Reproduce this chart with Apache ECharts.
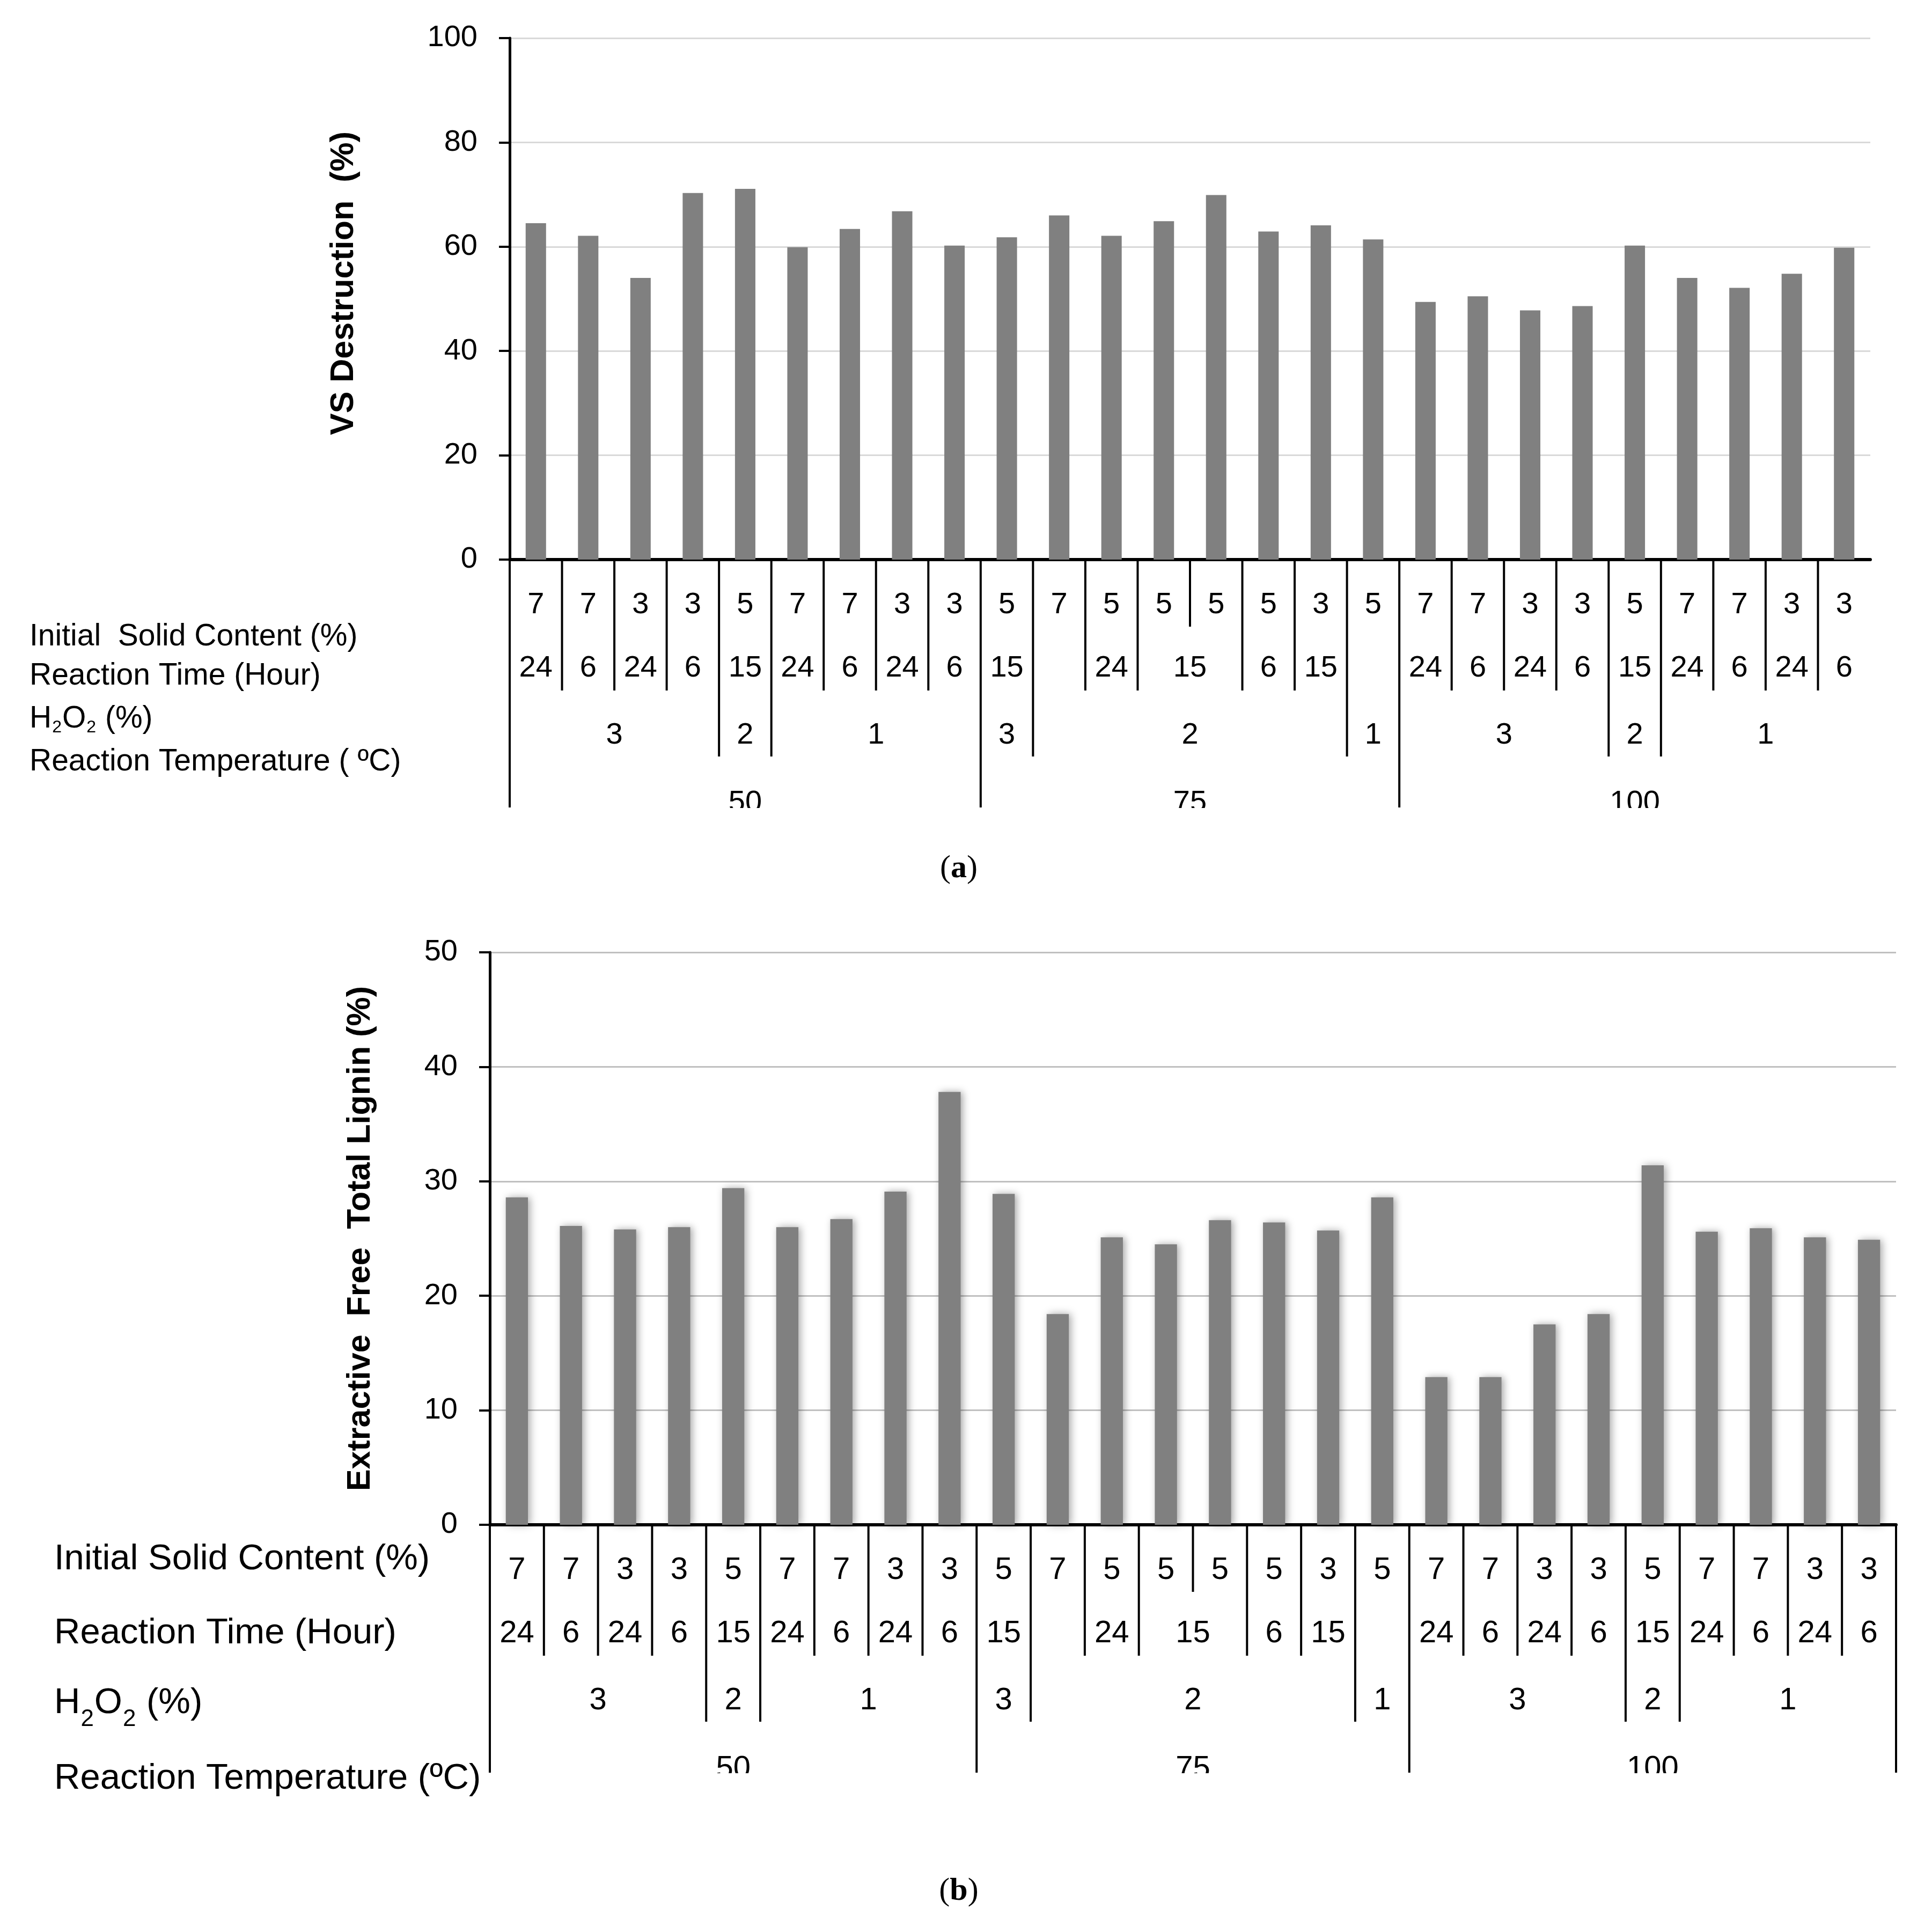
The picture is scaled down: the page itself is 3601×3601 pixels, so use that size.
<!DOCTYPE html>
<html><head><meta charset="utf-8">
<script src="https://cdn.jsdelivr.net/npm/echarts@6/dist/echarts.min.js"></script>
<style>html,body{margin:0;padding:0;background:#fff}#c{width:3601px;height:3601px}</style>
</head><body><div id="c"></div>
<script>
// ---------------- data ----------------
const solidContent = ['7','7','3','3','5','7','7','3','3','5','7','5','5','5','5','3','5','7','7','3','3','5','7','7','3','3'];
const reactionTime = [['24',1],['6',1],['24',1],['6',1],['15',1],['24',1],['6',1],['24',1],['6',1],
  ['15',1],['',1],['24',1],['15',2],['6',1],['15',1],['',1],
  ['24',1],['6',1],['24',1],['6',1],['15',1],['24',1],['6',1],['24',1],['6',1]];
const h2o2 = [['3',4],['2',1],['1',4],['3',1],['2',6],['1',1],['3',4],['2',1],['1',4]];
const temperature = [['50',9],['75',8],['100',9]];
const vsDestruction = [64.5,62.1,54.0,70.3,71.1,59.9,63.4,66.8,60.2,61.8,66.0,62.1,64.9,69.9,62.9,64.1,61.4,49.4,50.5,47.8,48.6,60.2,54.0,52.1,54.8,59.8];
const totalLignin = [28.6,26.1,25.8,26.0,29.4,26.0,26.7,29.1,37.8,28.9,18.4,25.1,24.5,26.6,26.4,25.7,28.6,12.9,12.9,17.5,18.4,31.4,25.6,25.9,25.1,24.9];
const categories = solidContent.map((s, i) => 'Run ' + (i + 1));
const rowTitlesA = ['Initial  Solid Content (%)', 'Reaction Time (Hour)', 'H2O2 (%)', 'Reaction Temperature ( ºC)'];
const rowTitlesB = ['Initial Solid Content (%)', 'Reaction Time (Hour)', 'H2O2 (%)', 'Reaction Temperature (ºC)'];
const yTitleA = 'VS Destruction  (%)';
const yTitleB = 'Extractive  Free  Total Lignin (%)';
const captions = ['a', 'b'];

// ---------------- chart ----------------
const FONT = '"Liberation Sans", Arial, sans-serif';
const chart = echarts.init(document.getElementById('c'), null, {renderer: 'canvas', width: 3601, height: 3601});

function yAxisCfg(gi, max, interval, gridColor, title, gap, pad) {
  return {
    gridIndex: gi, type: 'value', min: 0, max: max, interval: interval,
    axisLine: {show: true, lineStyle: {color: '#000', width: 5}},
    axisTick: {show: true, length: 20, lineStyle: {color: '#000', width: 4}},
    axisLabel: {fontSize: 56, color: '#000', margin: 60, fontFamily: FONT},
    splitLine: {show: true, lineStyle: {color: gridColor, width: 3}},
    name: title, nameLocation: 'middle', nameGap: gap, nameRotate: 90,
    nameTextStyle: {fontSize: 61, fontWeight: 'bold', color: '#000', fontFamily: FONT, padding: pad}
  };
}

const option = {
  animation: false,
  backgroundColor: '#ffffff',
  grid: [
    {left: 950, top: 71, width: 2536, height: 972},
    {left: 913, top: 1775, width: 2621, height: 1067}
  ],
  xAxis: [0, 1].map(gi => ({
    type: 'category', gridIndex: gi, data: categories,
    axisLabel: {show: false}, axisTick: {show: false},
    axisLine: {show: true, lineStyle: {color: '#000', width: 6}},
    splitLine: {show: false}
  })),
  yAxis: [
    yAxisCfg(0, 100, 20, '#d9d9d9', yTitleA, 278, [0, 0, 0, 58]),
    yAxisCfg(1, 50, 10, '#c0c0c0', yTitleB, 210, [0, 0, 0, 0])
  ],
  series: [
    {type: 'bar', xAxisIndex: 0, yAxisIndex: 0, data: vsDestruction, barWidth: '39%',
     itemStyle: {color: '#808080'}},
    {type: 'bar', xAxisIndex: 1, yAxisIndex: 1, data: totalLignin, barWidth: '41%',
     itemStyle: {color: '#808080', shadowBlur: 14, shadowColor: 'rgba(0,0,0,0.35)', shadowOffsetX: 4, shadowOffsetY: 0}}
  ]
};
chart.setOption(option);

// level depths below axis (separator ends) and row label offsets
const LEVEL = [0, 125, 244, 367, 462];
const ROW_Y = [85, 203, 328];
const ROW4_TOP = 426;

function txt(x, y, text, size, align, va, extra) {
  return Object.assign({
    type: 'text', x: x, y: y, z: 10,
    style: {text: text, fontSize: size, fontFamily: FONT, fill: '#000',
            align: align, textAlign: align, verticalAlign: va, textVerticalAlign: va}
  }, extra || {});
}

function tableGraphics(gi, L) {
  const els = [];
  const c = i => chart.convertToPixel({xAxisIndex: gi}, i);
  const bw = c(1) - c(0);
  const edge = k => c(0) - bw / 2 + k * bw;
  const base = chart.convertToPixel({yAxisIndex: gi}, 0);
  const n = solidContent.length;
  const lvl = new Array(n + 1).fill(1);
  const mark = (groups, level) => {
    let k = 0;
    lvl[0] = Math.max(lvl[0], level);
    groups.forEach(g => { k += g[1]; lvl[k] = Math.max(lvl[k], level); });
  };
  mark(reactionTime, 2); mark(h2o2, 3); mark(temperature, 4);
  for (let k = 0; k <= n; k++) {
    if (k === n && !L.rightEdge) continue;
    const x = edge(k);
    els.push({type: 'line', z: 10, shape: {x1: x, y1: base, x2: x, y2: base + LEVEL[lvl[k]]},
              style: {stroke: '#000', lineWidth: 4}});
  }
  // row 1
  solidContent.forEach((s, i) => els.push(txt(c(i), base + ROW_Y[0], s, L.cellFont, 'center', 'middle')));
  const groupRow = (groups, y, va) => {
    let k = 0;
    groups.forEach(g => {
      const cx = (edge(k) + edge(k + g[1])) / 2;
      if (g[0] !== '') els.push(txt(cx, base + y, g[0], L.cellFont, 'center', va));
      k += g[1];
    });
  };
  groupRow(reactionTime, ROW_Y[1], 'middle');
  groupRow(h2o2, ROW_Y[2], 'middle');
  groupRow(temperature, ROW4_TOP, 'top');
  // mask for clipped bottom labels
  els.push({type: 'rect', z: 20, shape: {x: edge(0) + 4, y: base + LEVEL[4] + 1, width: edge(n) - edge(0) - 8, height: 80},
            style: {fill: '#fff'}});
  // row titles
  L.titles.forEach((t, r) => {
    const y = base + L.titleDy[r];
    if (t.indexOf('H2O2') === 0) {
      const sf = L.subFont;
      els.push({type: 'text', x: L.titleX, y: y, z: 10, style: {
        text: '{n|H}{s|2}{n|O}{s|2}{n| (%)}', fill: '#000', fontFamily: FONT,
        align: 'left', textAlign: 'left', verticalAlign: 'middle', textVerticalAlign: 'middle',
        rich: {
          n: {fontSize: L.titleFont, fontFamily: FONT, fill: '#000', color: '#000', verticalAlign: 'middle'},
          s: {fontSize: sf, fontFamily: FONT, fill: '#000', color: '#000', lineHeight: sf,
              verticalAlign: 'middle', padding: [L.subDrop * 2, 1, 0, 1]}
        }
      }});
    } else {
      els.push(txt(L.titleX, y, t, L.titleFont, 'left', 'middle'));
    }
  });
  return els;
}

const graphics = []
  .concat(tableGraphics(0, {titles: rowTitlesA, titleX: 55, titleFont: 57, cellFont: 56, titleDy: [144, 217, 297, 377], rightEdge: false, subFont: 32, subDrop: 16}))
  .concat(tableGraphics(1, {titles: rowTitlesB, titleX: 101, titleFont: 67, cellFont: 58, titleDy: [65, 203, 333, 474], rightEdge: true, subFont: 44, subDrop: 30}));

[1619, 3525].forEach((y, i) => {
  graphics.push({type: 'text', x: 1787, y: y, z: 10, style: {
    text: '{p|(}{b|' + captions[i] + '}{p|)}', align: 'center', textAlign: 'center', verticalAlign: 'middle', textVerticalAlign: 'middle',
    rich: {
      p: {fontSize: 60, fontFamily: '"Liberation Serif", "DejaVu Serif", serif', fill: '#000', color: '#000'},
      b: {fontSize: 60, fontWeight: 'bold', fontFamily: '"Liberation Serif", "DejaVu Serif", serif', fill: '#000', color: '#000'}
    }
  }});
});

chart.setOption({graphic: graphics});
</script>
</body></html>
